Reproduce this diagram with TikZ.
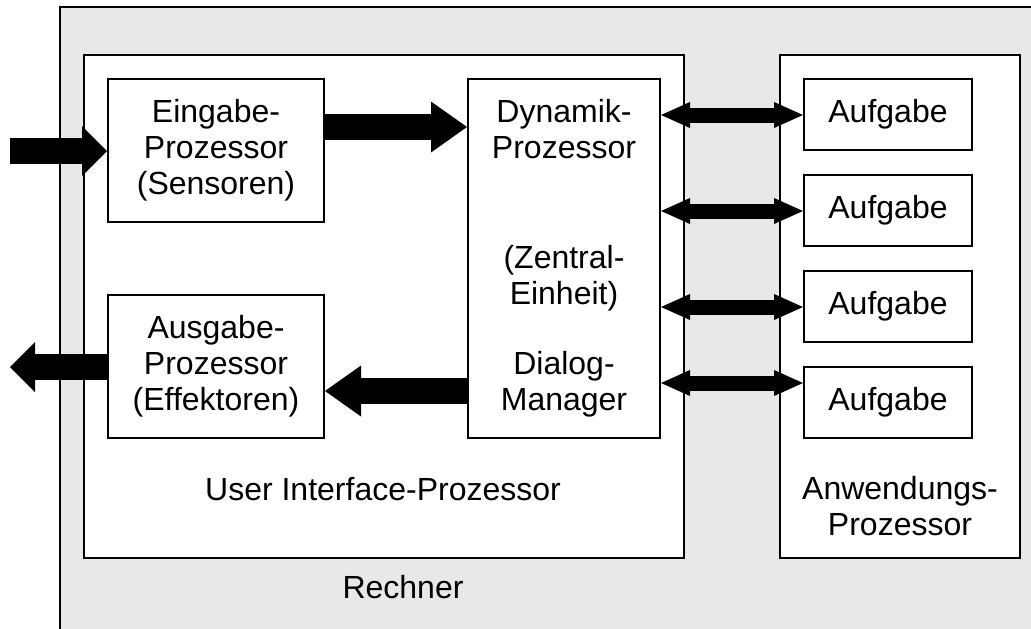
\documentclass[tikz,border=0pt]{standalone}
\usepackage{fontspec}
\setmainfont{Liberation Sans}
\usetikzlibrary{arrows.meta}

\definecolor{rechnergray}{HTML}{E8E8E8}

\begin{document}
\begin{tikzpicture}[x=0.75pt, y=-0.75pt, line width=1.5pt,
    every node/.style={font=\fontsize{24}{27}\selectfont},
    box/.style={draw, rectangle, fill=white, align=center, inner sep=0pt},
    fatarrow/.style={line width=19.5pt, -{Triangle[length=27pt, width=38.25pt, line width=0pt]}},
    edgearrow/.style={line width=19.5pt, -{Triangle[length=18.75pt, width=37.5pt, line width=0pt]}},
    linkarrow/.style={line width=11.25pt, {Triangle[length=21.75pt, width=19.5pt, line width=0pt]}-{Triangle[length=21.75pt, width=19.5pt, line width=0pt]}}]
    % Fix the picture size; the grey frame runs out at the right and bottom.
    \path[use as bounding box, clip] (0,0) rectangle (1031,628);

    % The grey computer frame.
    \draw[fill=rechnergray] (60,7) rectangle (1100,700);
    \node[anchor=base] (rechner) at (403,598) {Rechner};

    % The two big processors.
    \node[box, minimum width=450pt, minimum height=377.25pt] (ui) at (384,306.5) {};
    \node[box, minimum width=180pt, minimum height=377.25pt] (anw) at (900,306.5) {};
    \node[anchor=base] (uitext) at (383,500) {User Interface-Prozessor};
    % base of a two line node is its last line
    \node[anchor=base, align=center] (anwtext) at (900,535) {Anwendungs-\\Prozessor};

    % Boxes inside the user interface processor.
    \node[box, minimum width=162pt, minimum height=107.25pt] (eingabe) at (216,150.5) {Eingabe-\\Prozessor\\(Sensoren)};
    \node[box, minimum width=162pt, minimum height=107.25pt] (ausgabe) at (216,366.5) {Ausgabe-\\Prozessor\\(Effektoren)};
    \node[box, minimum width=144pt, minimum height=269.25pt] (dynamik) at (564,258.5)
        {Dynamik-\\Prozessor\\[55pt](Zentral-\\Einheit)\\[26pt]Dialog-\\Manager};

    % Draw 4 task boxes vertically.
    \foreach \i in {1,...,4} {
        \node[box, minimum width=126pt, minimum height=53.25pt] (aufgabe\i) at (888,18.5+96*\i) {Aufgabe};
    }

    % Input and output arrows through the frame.
    \coordinate (inEnd) at (10,151);
    \coordinate (outEnd) at (10,367);
    \draw[edgearrow] (inEnd) -- (inEnd -| eingabe.west);
    \draw[edgearrow] (outEnd -| ausgabe.west) -- (outEnd);

    % Arrows between the inner boxes.
    \draw[fatarrow] (eingabe.east |- 0,127) -- (dynamik.west |- 0,127);
    \draw[fatarrow] (dynamik.west |- 0,391) -- (ausgabe.east |- 0,391);
    \foreach \i/\y in {1/115,2/211,3/307,4/383} {
        \draw[linkarrow] (dynamik.east |- 0,\y) -- (aufgabe\i.west |- 0,\y);
    }
\end{tikzpicture}
\end{document}
